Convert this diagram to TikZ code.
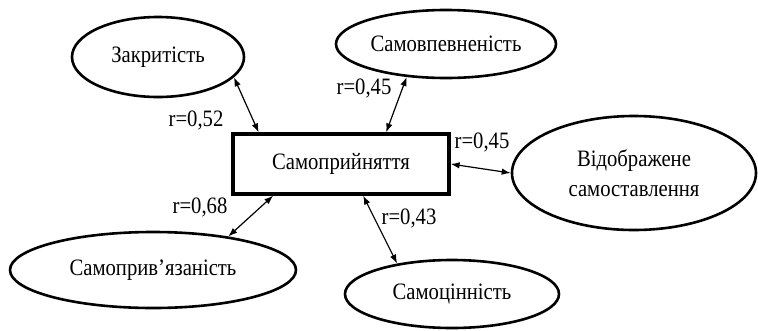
\documentclass[tikz,border=0pt]{standalone}
\usepackage{fontspec}
\setmainfont{Liberation Serif}[FakeStretch=0.88]
\usetikzlibrary{shapes.geometric,arrows.meta}
\begin{document}
\begin{tikzpicture}[x=1pt,y=-1pt,
  every node/.style={font=\rmfamily\fontsize{23.5}{30}\selectfont, inner sep=0pt},
  oval/.style={ellipse, draw, line width=2.6pt},
  box/.style={rectangle, draw, line width=3.2pt, minimum width=216pt, minimum height=60pt},
  link/.style={{Latex[length=9pt,width=6.5pt]}-{Latex[length=9pt,width=6.5pt]}, line width=1.2pt},
  lbl/.style={}]
\useasboundingbox (0,0) rectangle (758,330);
\node[box] (self) at (341,164) {Самоприйняття};
\node[oval, minimum width=172pt, minimum height=80pt] (zak) at (158,57) {Закритість};
\node[oval, minimum width=220pt, minimum height=68pt] (sam) at (446,44) {Самовпевненість};
\node[oval, minimum width=244pt, minimum height=114pt, align=center] (vid) at (634,173) {Відображене\\самоставлення};
\node[oval, minimum width=286pt, minimum height=76pt] (priv) at (153,270) {Самоприв’язаність};
\node[oval, minimum width=214pt, minimum height=68pt] (cin) at (452,294) {Самоцінність};
\draw[link] (zak.-15) -- (self.159);
\draw[link] (sam.220) -- (self.35.5);
\draw[link] (self.east) -- (vid.west);
\draw[link] (priv.24.8) -- (self.205.5);
\draw[link] (cin.151.5) -- (self.-55);
\node[lbl] (l1) at (196,120) {r=0,52};
\node[lbl] (l2) at (364,88) {r=0,45};
\node[lbl] (l3) at (482,142) {r=0,45};
\node[lbl] (l4) at (200,207) {r=0,68};
\node[lbl] (l5) at (409,218) {r=0,43};
\end{tikzpicture}
\end{document}
